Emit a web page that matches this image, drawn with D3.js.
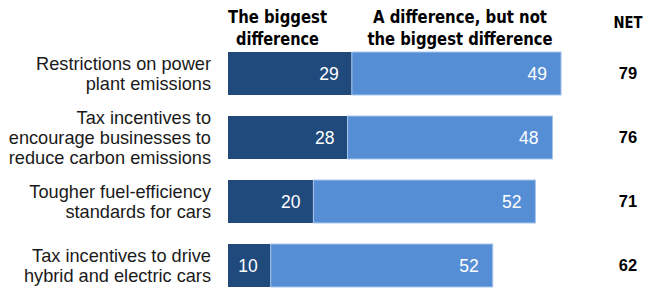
<!DOCTYPE html>
<html>
<head>
<meta charset="utf-8">
<script src="https://cdn.jsdelivr.net/npm/d3@7"></script>
<style>
  html, body { margin: 0; padding: 0; background: #fff; }
  svg { display: block; }
</style>
</head>
<body>
<svg id="chart" width="646" height="291"></svg>
<script>
const categories = [
  ["Restrictions on power", "plant emissions"],
  ["Tax incentives to", "encourage businesses to", "reduce carbon emissions"],
  ["Tougher fuel-efficiency", "standards for cars"],
  ["Tax incentives to drive", "hybrid and electric cars"]
];
const biggest = [29, 28, 20, 10];
const notBiggest = [49, 48, 52, 52];
const net = [79, 76, 71, 62];
const headerBiggest = ["The biggest", "difference"];
const headerNotBiggest = ["A difference, but not", "the biggest difference"];
const headerNet = "NET";

const svg = d3.select("#chart");
const ids = categories.map((c, i) => i);

const x = d3.scaleLinear().domain([0, 100]).range([228, 655]);
const y = d3.scaleBand().domain(ids).range([41.5, 297.5]).paddingInner(0.328).paddingOuter(0.164);

const dark = "#214a7c", light = "#558ed5";
const labelFont = "'Liberation Sans', Arial, sans-serif";
const headFont = "'DejaVu Sans Condensed', 'Liberation Sans Narrow', 'DejaVu Sans', sans-serif";

// bars
const g = svg.append("g");
g.selectAll("rect.big").data(ids).join("rect")
  .attr("x", x(0)).attr("y", i => y(i))
  .attr("width", i => x(biggest[i]) - x(0)).attr("height", y.bandwidth())
  .attr("fill", dark);
g.selectAll("rect.nb").data(ids).join("rect")
  .attr("x", i => x(biggest[i])).attr("y", i => y(i))
  .attr("width", i => x(biggest[i] + notBiggest[i]) - x(biggest[i])).attr("height", y.bandwidth())
  .attr("fill", light).attr("stroke", "#a9c6ec").attr("stroke-width", 1);

// value labels
g.selectAll("text.vb").data(ids).join("text")
  .attr("x", i => x(biggest[i]) - 13).attr("y", i => y(i) + y.bandwidth() / 2)
  .attr("dy", "0.36em").attr("text-anchor", "end")
  .attr("font-family", labelFont).attr("font-size", 17.5).attr("fill", "#fff")
  .text(i => biggest[i]);
g.selectAll("text.vn").data(ids).join("text")
  .attr("x", i => x(biggest[i] + notBiggest[i]) - 14).attr("y", i => y(i) + y.bandwidth() / 2)
  .attr("dy", "0.36em").attr("text-anchor", "end")
  .attr("font-family", labelFont).attr("font-size", 17.5).attr("fill", "#fff")
  .text(i => notBiggest[i]);

// NET values
g.selectAll("text.net").data(ids).join("text")
  .attr("x", 628).attr("y", i => y(i) + y.bandwidth() / 2)
  .attr("dy", "0.36em").attr("text-anchor", "middle")
  .attr("font-family", labelFont).attr("font-weight", "bold").attr("font-size", 16.5).attr("fill", "#000")
  .text(i => net[i]);

// category labels
const lh = 20;
ids.forEach(i => {
  const lines = categories[i];
  const cy = y(i) + y.bandwidth() / 2;
  const t = svg.append("text")
    .attr("text-anchor", "end")
    .attr("font-family", labelFont).attr("font-size", 18.2).attr("fill", "#1a1a1a");
  lines.forEach((ln, k) => {
    t.append("tspan").attr("x", 211)
      .attr("y", cy + (k - (lines.length - 1) / 2) * lh)
      .attr("dy", "0.36em").text(ln);
  });
});

// headers
function header(lines, cx, widths) {
  lines.forEach((ln, k) => {
    svg.append("text")
      .attr("x", cx).attr("y", 23 + k * 22)
      .attr("text-anchor", "middle")
      .attr("font-family", headFont).attr("font-weight", "bold").attr("font-size", 18)
      .attr("fill", "#000")
      .attr("textLength", widths[k]).attr("lengthAdjust", "spacingAndGlyphs")
      .text(ln);
  });
}
header(headerBiggest, 277.5, [99, 83]);
header(headerNotBiggest, 460, [174, 185]);
svg.append("text").attr("x", 628).attr("y", 28).attr("text-anchor", "middle")
  .attr("font-family", headFont).attr("font-weight", "bold").attr("font-size", 16)
  .attr("textLength", 29).attr("lengthAdjust", "spacingAndGlyphs")
  .text(headerNet);
</script>
</body>
</html>
